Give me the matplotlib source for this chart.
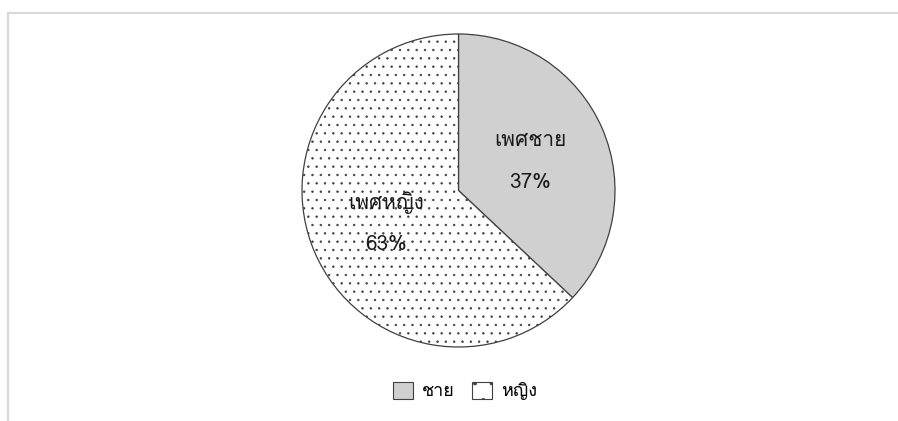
import matplotlib
matplotlib.use('Agg')
import matplotlib.pyplot as plt
from matplotlib import font_manager
from matplotlib.ft2font import FT2Font
from matplotlib.patches import Patch
from matplotlib.lines import Line2D

# Gender split
labels = ['เพศชาย', 'เพศหญิง']
legend_labels = ['ชาย', 'หญิง']
shares = [37, 63]
fills = ['#d0d0d0', 'white']
hatches = ['', '..']


# pick an installed family that has Thai glyphs
def thai_family():
    for f in font_manager.fontManager.ttflist:
        try:
            if ord('ช') in FT2Font(f.fname).get_charmap():
                return f.name
        except Exception:
            continue
    return 'DejaVu Sans'


fam = thai_family()
plt.rcParams['font.family'] = [fam, 'DejaVu Sans']
plt.rcParams['hatch.color'] = '#8a8a8a'
plt.rcParams['hatch.linewidth'] = 0.5

W, H = 898, 421
fig = plt.figure(figsize=(W / 100, H / 100), dpi=100)

# light frame on top and left
fig.add_artist(Line2D([8 / W, 1], [1 - 13 / H, 1 - 13 / H], color='#d9d9d9', lw=1.5))
fig.add_artist(Line2D([8 / W, 8 / W], [0, 1 - 13 / H], color='#d9d9d9', lw=1.5))

cx, cy, r = 458.5, 190.5, 156.5
ax = fig.add_axes([(cx - r) / W, (H - cy - r) / H, 2 * r / W, 2 * r / H])
wedges, _ = ax.pie(shares, colors=fills, startangle=90, counterclock=False,
                   wedgeprops=dict(edgecolor='#404040', linewidth=0.9))
for w, h in zip(wedges, hatches):
    w.set_hatch(h)
ax.set_xlim(-1, 1)
ax.set_ylim(-1, 1)
ax.set_aspect('equal')
ax.axis('off')

# data labels inside each slice: name on top, percent below
pos = [(0.46, 0.32), (-0.46, -0.075)]
for (x, y), lab, v in zip(pos, labels, shares):
    ax.text(x, y, lab, ha='center', va='center', fontsize=15, color='#1a1a1a')
    ax.text(x, y - 0.27, str(v) + '%', ha='center', va='center', fontsize=15,
            color='#1a1a1a')

handles = [Patch(facecolor=c, edgecolor='#404040', hatch=h[:1], linewidth=0.8)
           for c, h in zip(fills, hatches)]
fig.legend(handles, legend_labels, loc='center', bbox_to_anchor=(465 / W, 1 - 391 / H),
           ncol=2, frameon=False, fontsize=13, handlelength=1.1, handleheight=1.1,
           handletextpad=0.5, columnspacing=1.0)

fig.savefig('out.png', dpi=100)
